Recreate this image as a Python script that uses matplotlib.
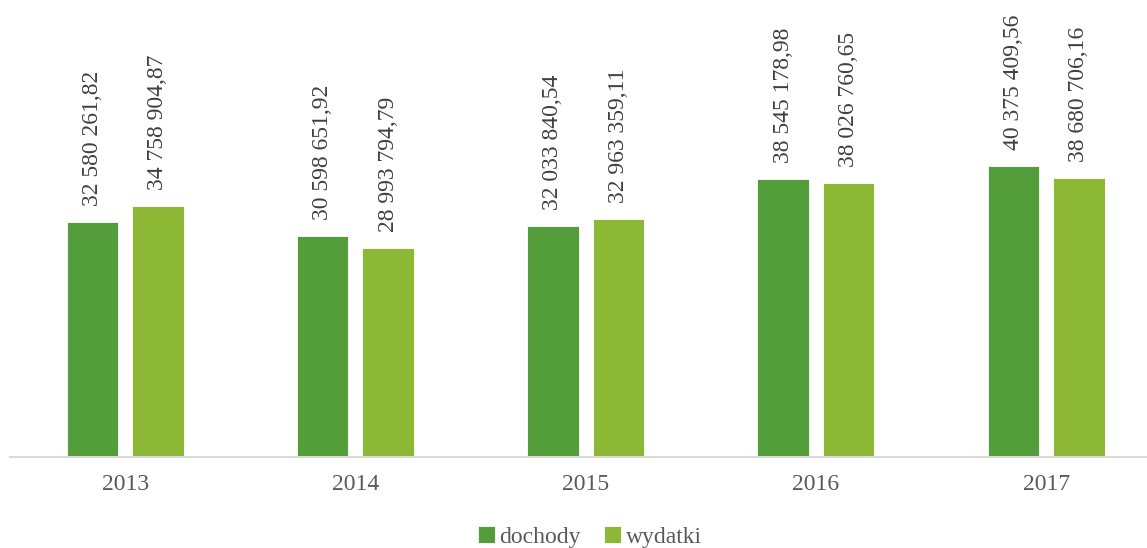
import matplotlib
matplotlib.use("Agg")
import matplotlib.pyplot as plt
import numpy as np

years = ["2013", "2014", "2015", "2016", "2017"]
dochody = [32580261.82, 30598651.92, 32033840.54, 38545178.98, 40375409.56]
wydatki = [34758904.87, 28993794.79, 32963359.11, 38026760.65, 38680706.16]
series_names = ["dochody", "wydatki"]
colors = ["#539D3A", "#8CB836"]

plt.rcParams['font.family'] = ['Liberation Serif', 'DejaVu Serif']

W, H = 1147, 548
fig = plt.figure(figsize=(W / 100, H / 100), dpi=100)
ax = fig.add_axes([10 / W, (H - 457) / H, (W - 10) / W, 457 / H])

def fmt(v):
    s = f"{v:,.2f}"
    ip, dp = s.split(".")
    return ip.replace(",", " ") + "," + dp

x = np.arange(len(years))
off = 0.142
bw = 0.224
for vals, name, col, d in [(dochody, series_names[0], colors[0], -off),
                           (wydatki, series_names[1], colors[1], off)]:
    ax.bar(x + d, vals, width=bw, color=col, label=name,
           edgecolor="white", linewidth=0.6)
    for xi, v in zip(x + d, vals):
        ax.annotate(fmt(v), (xi, v), xytext=(0, 11.5), textcoords="offset points",
                    rotation=90, ha="center", va="bottom", fontsize=17,
                    color="#404040")

ax.set_xlim(-0.5, -0.5 + (W - 10) / 230.25)
ax.set_ylim(0, 457 / 7.21 * 1e6)
for s in ["top", "right", "left"]:
    ax.spines[s].set_visible(False)
ax.spines["bottom"].set_color("#D9D9D9")
ax.spines["bottom"].set_linewidth(1.5)
ax.set_yticks([])
ax.set_xticks(x)
ax.set_xticklabels(years, fontsize=17, color="#595959")
ax.tick_params(axis="x", length=0, pad=12)

fig.legend(loc="center", bbox_to_anchor=(590 / W, (H - 537) / H), ncol=2,
           frameon=False, fontsize=17, handlelength=0.7, handleheight=0.7,
           handletextpad=0.2, columnspacing=1.0, labelcolor="#595959")

fig.savefig("out.png", dpi=100)
